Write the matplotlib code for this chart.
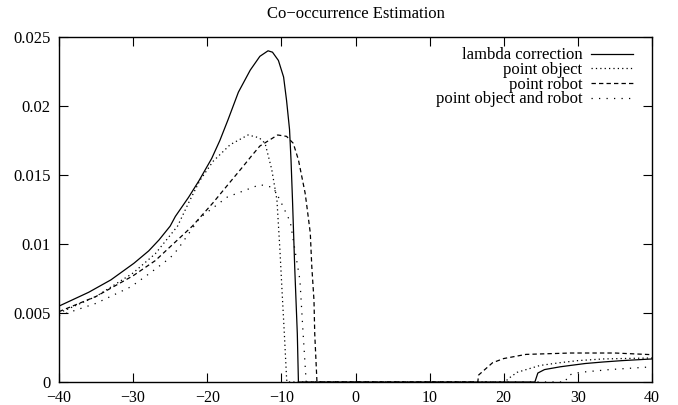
import matplotlib
matplotlib.use('Agg')
import matplotlib.pyplot as plt

plt.rcParams['font.family'] = ['Liberation Serif', 'DejaVu Serif']

# lambda correction (solid)
lam_x = [-40, -36, -33, -29.9, -27.9, -26.5, -25, -24.3, -22.5, -21.1, -19.4, -18.3, -17.2, -15.8,
         -14.2, -12.9, -11.8, -11.2, -10.4, -9.7, -9.3, -8.9, -8.7, -8.5, -8.2, -7.85, -7.7,
         24.2, 24.6, 25.5, 27.6, 29, 31, 33.4, 36, 40]
lam_y = [0.0055, 0.0065, 0.0074, 0.0086, 0.0095, 0.0103, 0.0113, 0.0120, 0.0134, 0.0146, 0.0162, 0.0175, 0.0190, 0.0210,
         0.0226, 0.0236, 0.0240, 0.0239, 0.0233, 0.0221, 0.0204, 0.0183, 0.0161, 0.0132, 0.0083, 0.0035, 0.0,
         0.0, 0.00065, 0.0009, 0.0011, 0.0012, 0.00134, 0.00145, 0.00155, 0.00167]

# point object (fine dots)
obj_x = [-40, -35, -30, -27, -24, -22.5, -21, -19.2, -16.9, -14.5, -13, -12.2, -11.3, -10.6, -10.2, -9.9, -9.6, -9.3, -9.25,
         20.3, 20.5, 21.8, 24.9, 27.6, 30, 33.4, 36, 40]
obj_y = [0.0050, 0.0062, 0.0079, 0.0093, 0.0113, 0.0130, 0.0146, 0.0160, 0.0172, 0.0179, 0.0177, 0.0173, 0.0154, 0.0132,
         0.0096, 0.0065, 0.0035, 0.0003, 0.0,
         0.0, 0.0002, 0.0007, 0.0012, 0.0014, 0.00155, 0.00167, 0.0017, 0.00174]

# point robot (dashed)
rob_x = [-40, -35, -30, -27, -24, -22, -19.2, -16.9, -15.2, -14, -12.9, -10.5, -9.3, -8.4, -7.7, -6.8, -6.6, -6.1,
         -5.9, -5.6, -5.5, -5.25, -5.2,
         16.5, 16.6, 18.5, 20, 23, 29, 35, 40]
rob_y = [0.0051, 0.0062, 0.0077, 0.0088, 0.0103, 0.0113, 0.0130, 0.0145, 0.0156, 0.0164, 0.0171, 0.0179, 0.0178, 0.0173,
         0.0161, 0.0137, 0.0129, 0.0108, 0.0084, 0.0059, 0.0035, 0.0006, 0.0,
         0.0, 0.0005, 0.0014, 0.0017, 0.0020, 0.0021, 0.0021, 0.00198]

# point object and robot (sparse dots)
both_x = [-40, -35, -30.3, -27.7, -25, -24, -21, -17.3, -12.9, -11.1, -10.2, -8.8, -7.5, -7.1, -6.7, -6.65,
          28.3, 28.7, 30.3, 34.3, 40]
both_y = [0.0048, 0.0057, 0.0069, 0.0079, 0.0090, 0.0096, 0.0119, 0.0134, 0.0143, 0.0141, 0.0132, 0.0116,
          0.0074, 0.0038, 0.0004, 0.0,
          0.0, 0.0005, 0.0007, 0.0009, 0.0011]

x_ticks = [-40, -30, -20, -10, 0, 10, 20, 30, 40]
y_ticks = [0, 0.005, 0.01, 0.015, 0.02, 0.025]
y_tick_labels = ['0', '0.005', '0.01', '0.015', '0.02', '0.025']

fig = plt.figure(figsize=(6.78, 4.05), dpi=100)
ax = fig.add_axes([59 / 678, 23 / 405, 593 / 678, 345 / 405])

ax.plot(lam_x, lam_y, color='black', lw=0.9, label='lambda correction')
ax.plot(obj_x, obj_y, color='black', lw=0.9, dashes=(1, 2.5), label='point object')
ax.plot(rob_x, rob_y, color='black', lw=0.9, dashes=(3.5, 2.5), label='point robot')
ax.plot(both_x, both_y, color='black', lw=0.9, dashes=(1, 5), label='point object and robot')

ax.set_xlim(-40, 40)
ax.set_ylim(0, 0.025)
ax.set_xticks(x_ticks)
ax.set_yticks(y_ticks)
ax.set_yticklabels(y_tick_labels)
ax.tick_params(direction='in', length=6.5, width=0.8, top=True, right=True, labelsize=12)
ax.tick_params(axis='y', pad=6)
ax.tick_params(axis='x', pad=6, labelsize=11.5)
for s in ax.spines.values():
    s.set_linewidth(1.0)

ax.set_title('Co\u2212occurrence Estimation', fontsize=12, pad=14)

ax.legend(loc='upper right', bbox_to_anchor=(0.968, 0.97), frameon=False, markerfirst=False,
          fontsize=12, handlelength=2.5, handletextpad=0.55, labelspacing=-0.08, borderpad=0,
          borderaxespad=0)

fig.savefig('out.png', dpi=100)
